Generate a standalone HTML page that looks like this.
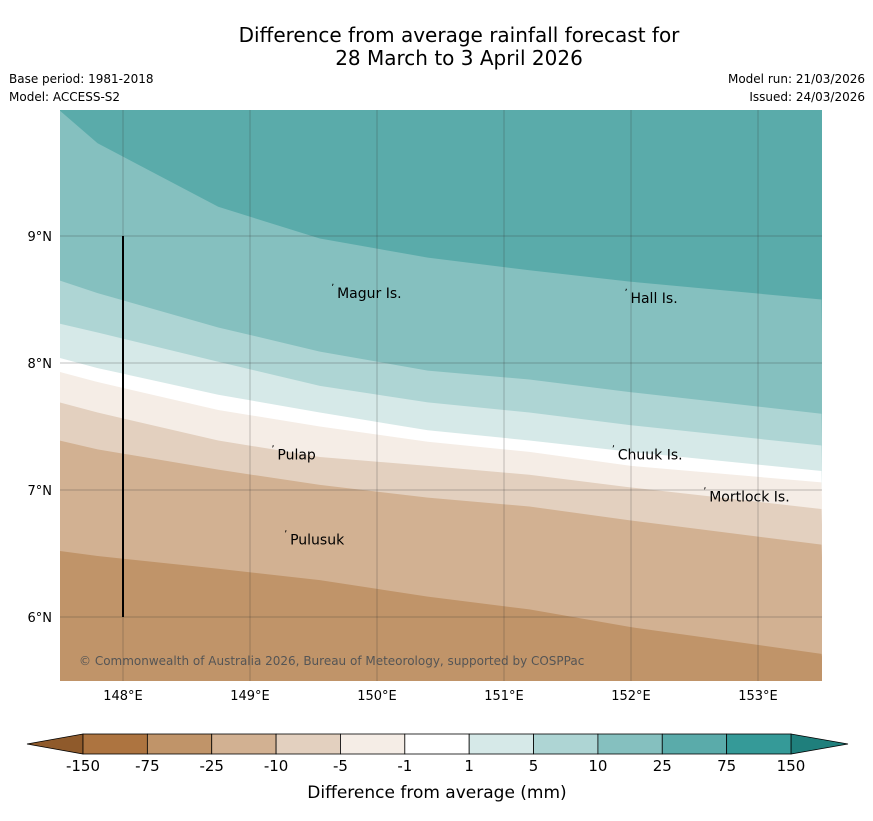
<!DOCTYPE html>
<html><head><meta charset="utf-8"><style>
body{margin:0;background:#fff;font-family:"Liberation Sans",sans-serif}
svg text{font-family:"DejaVu Sans","Liberation Sans",sans-serif}
</style></head><body>
<svg id="chart" width="873" height="816" xmlns="http://www.w3.org/2000/svg">
<rect width="873" height="816" fill="#fff"/>
<text x="459" y="42" font-size="20" text-anchor="middle">Difference from average rainfall forecast for</text>
<text x="459" y="65" font-size="20" text-anchor="middle">28 March to 3 April 2026</text>
<text x="9" y="83" font-size="12">Base period: 1981-2018</text>
<text x="9" y="101" font-size="12">Model: ACCESS-S2</text>
<text x="865" y="83" font-size="12" text-anchor="end">Model run: 21/03/2026</text>
<text x="865" y="101" font-size="12" text-anchor="end">Issued: 24/03/2026</text>
<g id="map"></g>
<g id="cbar"></g>
<text x="437" y="798" font-size="17" text-anchor="middle">Difference from average (mm)</text>
</svg>
<script>
const lons=[147.5,147.8,148.75,149.55,150.4,151.2,152,153.5];
const b1=[9.99,9.73,9.23,8.98,8.83,8.73,8.64,8.50];
const b2=[8.65,8.55,8.28,8.09,7.94,7.87,7.77,7.60];
const b3=[8.31,8.24,8.01,7.82,7.69,7.61,7.51,7.35];
const b4=[8.04,7.96,7.75,7.61,7.47,7.39,7.30,7.15];
const b5=[7.93,7.85,7.63,7.50,7.38,7.30,7.19,7.06];
const b6=[7.69,7.61,7.39,7.26,7.19,7.12,7.02,6.85];
const b7=[7.39,7.32,7.16,7.04,6.94,6.87,6.76,6.57];
const b8=[6.52,6.48,6.38,6.29,6.16,6.06,5.92,5.71];
const bandColors=["#85c0bf","#aed5d4","#d6e9e8","#ffffff","#f5ede6","#e3d0bf","#d2b192","#c09469"];
const levels=["-150","-75","-25","-10","-5","-1","1","5","10","25","75","150"];
const cbColors=["#ad7440","#c09469","#d2b192","#e3d0bf","#f5ede6","#ffffff","#d6e9e8","#aed5d4","#85c0bf","#5aabaa","#359a98"];
const lonTicks=[148,149,150,151,152,153];
const latTicks=[6,7,8,9];
const islands=[["Magur Is.",149.67,8.55],["Hall Is.",151.98,8.51],["Pulap",149.2,7.28],["Chuuk Is.",151.88,7.28],["Mortlock Is.",152.6,6.95],["Pulusuk",149.3,6.61]];
const NS="http://www.w3.org/2000/svg";
const X=l=>59.5+(l-147.5)*127, Y=la=>236-(la-9)*127;
const x0=60,x1=822,y0=110,y1=681;
function el(t,a,p){const e=document.createElementNS(NS,t);for(const k in a)e.setAttribute(k,a[k]);p.appendChild(e);return e;}
const map=document.getElementById('map');
const cp=el('clipPath',{id:'cp'},map);el('rect',{x:x0,y:y0,width:x1-x0,height:y1-y0},cp);
const g=el('g',{'clip-path':'url(#cp)'},map);
const bg=el('rect',{x:x0,y:y0,width:x1-x0,height:y1-y0,fill:'#5aabaa'},g);


[b1,b2,b3,b4,b5,b6,b7,b8].forEach((b,i)=>{
 let d='M'+lons.map((l,j)=>X(l)+','+Y(b[j])).join(' L')+` L${x1+5},${y1+5} L${x0-5},${y1+5} Z`;
 const p=el('path',{d:d,fill:bandColors[i]},g);
 
 
});
lonTicks.forEach(l=>{
 const ln=el('line',{x1:X(l),x2:X(l),y1:y0,y2:y1,stroke:'#333','stroke-opacity':0.4,'stroke-width':0.7},map);
 
 
 const t=el('text',{x:X(l),y:700,'font-size':13,'text-anchor':'middle'},map);t.textContent=l+'°E';
 
 
});
latTicks.forEach(la=>{
 const ln=el('line',{x1:x0,x2:x1,y1:Y(la),y2:Y(la),stroke:'#333','stroke-opacity':0.4,'stroke-width':0.7},map);
 
 
 const t=el('text',{x:52,y:Y(la)+5,'font-size':13,'text-anchor':'end'},map);t.textContent=la+'°N';
 
 
});
const vl=el('line',{x1:X(148),x2:X(148),y1:Y(9),y2:Y(6),stroke:'#000','stroke-width':2},map);


islands.forEach(s=>{
 const m=el('text',{x:X(s[1])-4,y:Y(s[2])-2,'font-size':10},map);m.textContent='ʼ';
 
 
 const t=el('text',{x:X(s[1])+2,y:Y(s[2])+5,'font-size':14},map);t.textContent=s[0];
 
 
});
const cr=el('text',{x:79,y:665,'font-size':12,fill:'#555'},map);cr.textContent='© Commonwealth of Australia 2026, Bureau of Meteorology, supported by COSPPac';


const cb=document.getElementById('cbar');
const cx0=83,cx1=791,cy0=734,cy1=754,w=(cx1-cx0)/cbColors.length;
const lt=el('path',{d:`M${cx0},${cy0} L27,744 L${cx0},${cy1} Z`,fill:'#8f5a2b',stroke:'#000','stroke-width':0.8},cb);


const rt=el('path',{d:`M${cx1},${cy0} L848,744 L${cx1},${cy1} Z`,fill:'#1f7f7c',stroke:'#000','stroke-width':0.8},cb);


cbColors.forEach((c,i)=>{
 const r=el('rect',{x:cx0+i*w,y:cy0,width:w,height:cy1-cy0,fill:c,stroke:'#000','stroke-width':0.8},cb);
 
 
});
levels.forEach((v,i)=>{
 const t=el('text',{x:cx0+i*w,y:771,'font-size':15,'text-anchor':'middle'},cb);t.textContent=v;
 
 
});
</script>
</body></html>
